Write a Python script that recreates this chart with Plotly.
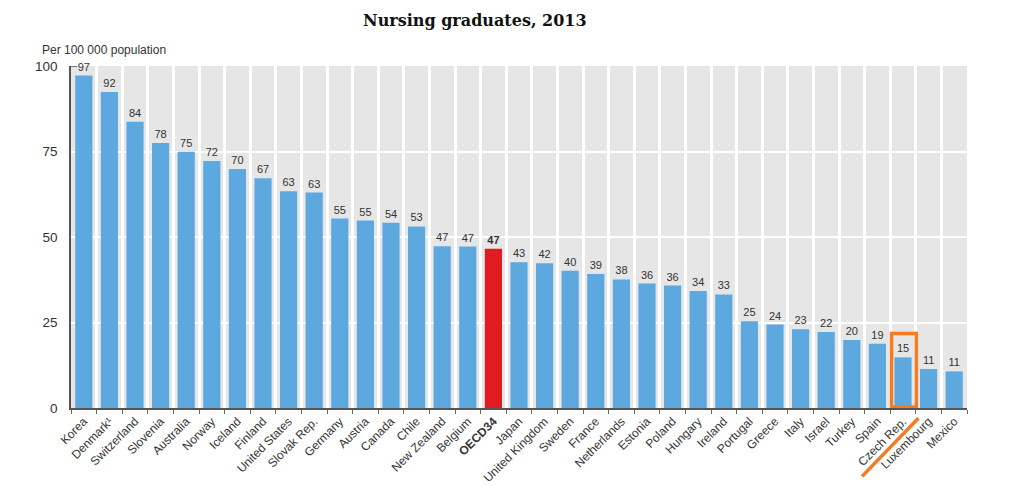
import plotly.graph_objects as go

countries = ["Korea", "Denmark¹", "Switzerland", "Slovenia", "Australia", "Norway", "Iceland",
             "Finland", "United States", "Slovak Rep.", "Germany", "Austria", "Canada", "Chile",
             "New Zealand", "Belgium", "OECD34", "Japan", "United Kingdom", "Sweden", "France",
             "Netherlands", "Estonia", "Poland", "Hungary", "Ireland", "Portugal", "Greece",
             "Italy", "Israel", "Turkey", "Spain", "Czech Rep.", "Luxembourg", "Mexico"]
values = [97.2, 92.4, 83.7, 77.5, 74.9, 72.2, 69.9, 67.2, 63.4, 63.0, 55.4, 54.8, 54.2, 53.1,
          47.3, 47.2, 46.6, 42.6, 42.3, 40.1, 39.2, 37.6, 36.4, 35.8, 34.2, 33.2, 25.4, 24.4,
          23.0, 22.2, 19.9, 18.8, 14.8, 11.4, 10.7]
labels = [f"{round(v)}" for v in values]
highlight = "OECD34"
marked = "Czech Rep."

BLUE = "#5CA8DF"
RED = "#E01B22"
colors = [RED if c == highlight else BLUE for c in countries]
ticktext = [f"<b>{c}</b>" if c == highlight else c for c in countries]
bartext = [f"<b>{t}</b>" if c == highlight else t for c, t in zip(countries, labels)]

FONT = "Liberation Sans Narrow, Arial Narrow, Liberation Sans, sans-serif"

fig = go.Figure(go.Bar(
    x=countries, y=values, marker_color=colors, marker_line_width=0,
    text=bartext, textposition="outside", cliponaxis=False,
    textfont=dict(family=FONT, size=11, color="#333333"),
))

mi = countries.index(marked)
fig.add_shape(type="rect", xref="x", yref="y", x0=mi - 0.45, x1=mi + 0.52, y0=0.3, y1=21.8,
              line=dict(color="#F47B20", width=3.5))
fig.add_shape(type="line", xref="x", yref="paper", x0=mi - 1.6, x1=mi + 0.6, y0=-0.2, y1=-0.03,
              line=dict(color="#F47B20", width=3.5))
# small tick at the top of the y axis
fig.add_shape(type="line", xref="paper", yref="y", x0=0, x1=0.007, y0=100, y1=100,
              line=dict(color="#555555", width=1.5))

fig.update_layout(
    width=1023, height=486,
    margin=dict(l=63, r=64, t=58, b=86),
    paper_bgcolor="white", plot_bgcolor="#E6E6E7",
    bargap=0.33, showlegend=False,
    font=dict(family=FONT, size=12, color="#333333"),
    annotations=[
        dict(text="<b>Nursing graduates, 2013</b>", xref="paper", yref="paper",
             x=0.451, y=1.0, yshift=46, xanchor="center", yanchor="middle", showarrow=False,
             font=dict(family="DejaVu Serif, Liberation Serif, serif", size=16, color="#111111")),
        dict(text="Per 100 000 population", xref="paper", yref="paper",
             x=0, xshift=-31, y=1.0, yshift=16, xanchor="left", yanchor="middle", showarrow=False,
             font=dict(family=FONT, size=12, color="#333333")),
    ],
)
fig.update_xaxes(
    type="category", tickson="boundaries", showgrid=True, gridcolor="white", gridwidth=3,
    ticks="outside", ticklen=4, tickcolor="#666666", tickangle=-45,
    tickvals=countries, ticktext=ticktext,
    tickfont=dict(family=FONT, size=12, color="#333333"),
    showline=True, linecolor="#555555", linewidth=1.5, automargin=False,
)
fig.update_yaxes(
    range=[0, 100], tickvals=[0, 25, 50, 75, 100], showgrid=True, gridcolor="white", gridwidth=2,
    zeroline=False, showline=True, linecolor="#555555", linewidth=1.5,
    ticklabelstandoff=9, tickfont=dict(family=FONT, size=13.5, color="#333333"), automargin=False,
)

fig.write_html("out.html")
